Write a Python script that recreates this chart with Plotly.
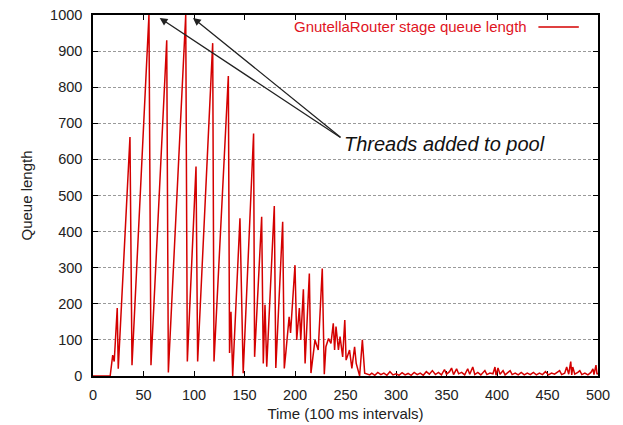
import plotly.graph_objects as go

# Vertices of the queue-length trace (time in 100 ms intervals, queue length)
time_pts = [0, 17, 19.5, 21, 24, 25,
            36.6, 38.6, 55.4, 57.4, 73, 74.6, 91.8, 93.4, 102, 103.6,
            118.5, 119.8, 134, 135.2, 136.6, 138.3, 145.5, 148.7, 159, 160,
            167, 168.6, 170.3, 172, 179.5, 181, 187.8, 189.4, 191, 194.2,
            195.6, 200, 201.7, 204.3, 205.7, 208.3, 210, 214.2, 215.8, 219.8,
            223, 227, 229, 230.6, 233.2, 235.6, 237.9, 239.2, 240.6, 243,
            244.6, 247.2, 249.3, 250.6, 254, 256.3, 259, 260.6, 264, 266.7,
            269, 274,
            276, 279, 282, 285, 288, 291, 294, 297, 300, 303, 306, 309, 312,
            315, 318, 321, 324, 327, 330, 333, 336, 339, 342, 345, 348, 350,
            353, 355, 357, 360, 362, 365, 368, 371, 373, 376, 378, 381, 384,
            388, 390, 393, 396, 398, 399, 401, 403, 406, 408, 411, 413, 415,
            418, 421, 424, 427, 430, 433, 436, 439, 442, 445, 448, 451, 454,
            457, 460, 462, 464, 467, 469, 471, 473, 474, 475, 477, 480, 482,
            484, 487, 490, 493, 495, 496, 498, 499, 500]
queue_len = [0, 0, 58, 40, 188, 20,
             662, 30, 1000, 30, 930, 10, 1000, 40, 580, 40,
             922, 40, 831, 64, 178, 0, 437, 8, 672, 53,
             441, 35, 197, 26, 471, 22, 427, 21, 67, 164,
             119, 307, 100, 188, 100, 240, 35, 284, 8, 100,
             72, 298, 5, 81, 104, 90, 146, 72, 137, 72,
             109, 53, 155, 44, 72, 21, 81, 35, 0, 100,
             8, 3,
             8, 2, 10, 4, 8, 2, 12, 3, 6, 2, 9, 3, 7,
             2, 10, 4, 8, 2, 12, 5, 15, 4, 10, 3, 18, 5,
             12, 22, 4, 20, 6, 10, 3, 20, 5, 25, 4, 10, 3,
             15, 4, 8, 6, 25, 2, 22, 5, 15, 3, 10, 15, 4,
             8, 3, 10, 3, 8, 4, 10, 3, 8, 4, 12, 3, 8,
             5, 10, 15, 4, 8, 25, 5, 40, 3, 25, 5, 10, 15,
             4, 8, 3, 10, 20, 4, 30, 5, 8]

x_ticks = [0, 50, 100, 150, 200, 250, 300, 350, 400, 450, 500]
y_ticks = [0, 100, 200, 300, 400, 500, 600, 700, 800, 900, 1000]

series_name = "GnutellaRouter stage queue length"
note_text = "Threads added to pool"
arrow_heads_x = [66, 99]
arrow_heads_y = [992, 992]
arrow_tail = (246.5, 658)

RED = "#d40000"
FONT = "Liberation Sans, Arial, sans-serif"

fig = go.Figure()
fig.add_trace(go.Scatter(x=time_pts, y=queue_len, mode="lines",
                         line=dict(color=RED, width=1.5),
                         name=series_name, showlegend=False))

axis_common = dict(showline=True, linecolor="black", linewidth=1.5,
                   mirror="allticks", ticks="inside", ticklen=5,
                   tickcolor="black", tickwidth=1,
                   tickfont=dict(family=FONT, size=14.5, color="#222"),
                   zeroline=False, automargin=False)

fig.update_xaxes(range=[0, 500], tickvals=x_ticks, showgrid=False,
                 title=dict(text="Time (100 ms intervals)",
                            font=dict(family=FONT, size=15, color="#222"),
                            standoff=6),
                 ticklabelstandoff=5, layer="below traces", **axis_common)
fig.update_yaxes(range=[0, 1000], tickvals=y_ticks, showgrid=True,
                 gridcolor="#9a9a9a", gridwidth=1, griddash="3px,2px",
                 title=dict(text="Queue length",
                            font=dict(family=FONT, size=15, color="#222"),
                            standoff=14),
                 ticklabelstandoff=6, **axis_common)

# legend entry (text on the left, sample line on the right)
fig.add_annotation(xref="paper", yref="paper", x=0.863, y=0.967,
                   xanchor="right", yanchor="middle", showarrow=False,
                   text=series_name,
                   font=dict(family=FONT, size=15, color="#e0141e"))
fig.add_shape(type="line", xref="paper", yref="paper",
              x0=0.882, x1=0.962, y0=0.967, y1=0.967,
              line=dict(color=RED, width=1.5))

for hx, hy in zip(arrow_heads_x, arrow_heads_y):
    fig.add_annotation(x=hx, y=hy, ax=arrow_tail[0], ay=arrow_tail[1],
                       axref="x", ayref="y", xref="x", yref="y",
                       text="", showarrow=True, arrowhead=2, arrowsize=1.2,
                       arrowwidth=1.3, arrowcolor="#222")
fig.add_annotation(x=arrow_tail[0] + 0.5, y=arrow_tail[1] - 15, xref="x", yref="y",
                   xanchor="left", yanchor="middle", showarrow=False,
                   text="<i>" + note_text + "</i>",
                   font=dict(family=FONT, size=20, color="#111"))

fig.update_layout(width=623, height=425,
                  margin=dict(l=93, r=25, t=15, b=49),
                  paper_bgcolor="white", plot_bgcolor="white",
                  showlegend=False)

fig.write_html("out.html", config={"displayModeBar": False},
               post_script="document.body.style.margin='0';document.body.style.overflow='hidden';")
